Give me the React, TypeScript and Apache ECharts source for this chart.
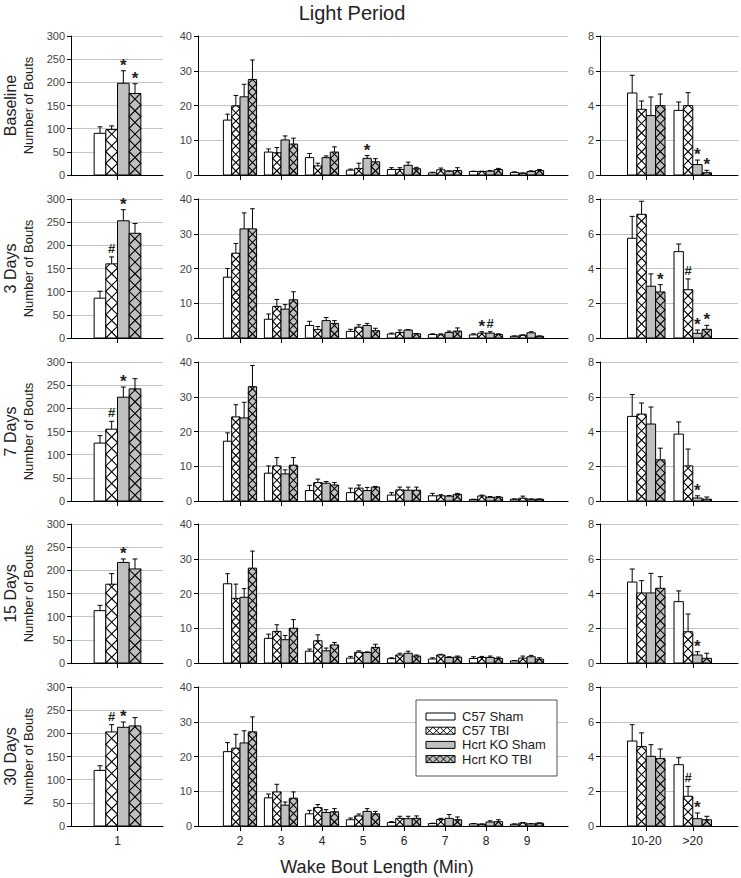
import React, { useEffect, useRef } from "react";
import * as echarts from "echarts";

// ---------- data ----------
const groups = ["C57 Sham", "C57 TBI", "Hcrt KO Sham", "Hcrt KO TBI"];
const rowLabels = ["Baseline", "3 Days", "7 Days", "15 Days", "30 Days"];
const categories = ["1", "2", "3", "4", "5", "6", "7", "8", "9", "10-20", ">20"];
const panelSlices = [[0, 1], [1, 9], [9, 11]];
const panelMax = [300, 40, 8];
const panelInterval = [50, 10, 2];
const title = "Light Period";
const xTitle = "Wake Bout Length (Min)";
const yTitle = "Number of Bouts";

// mean values: [group][category]
const baselineMean = [
  [90, 15.8, 6.6, 5.0, 1.4, 1.6, 0.6, 1.0, 0.7, 4.72, 3.72],
  [98, 19.9, 6.4, 2.6, 1.9, 1.6, 1.5, 1.0, 0.5, 3.78, 3.99],
  [198, 22.5, 10.1, 5.0, 4.8, 2.8, 1.1, 1.1, 1.0, 3.42, 0.6],
  [176, 27.5, 8.9, 6.6, 3.8, 1.8, 1.3, 1.6, 1.3, 3.99, 0.13],
];
const baselineSem = [
  [14, 1.7, 0.9, 1.2, 0.3, 0.5, 0.2, 0.1, 0.2, 1.02, 0.48],
  [8, 3.0, 1.5, 0.8, 1.5, 0.5, 0.5, 0.1, 0.1, 0.48, 0.75],
  [27, 3.6, 1.15, 0.5, 0.8, 0.9, 0.1, 0.2, 0.2, 1.07, 0.26],
  [21, 5.6, 1.7, 1.5, 0.9, 0.4, 0.8, 0.3, 0.3, 0.67, 0.14],
];
const day3Mean = [
  [86, 17.5, 5.4, 3.6, 1.9, 1.15, 1.0, 0.9, 0.5, 5.74, 4.97],
  [160, 24.4, 9.1, 2.4, 3.1, 1.6, 0.9, 1.4, 0.8, 7.12, 2.78],
  [253, 31.4, 8.3, 5.0, 3.6, 2.3, 1.6, 1.4, 1.5, 2.98, 0.27],
  [226, 31.4, 11.0, 4.2, 2.1, 1.2, 2.0, 1.0, 0.5, 2.65, 0.5],
];
const day3Sem = [
  [15, 2.5, 1.5, 1.2, 0.6, 0.25, 0.2, 0.3, 0.1, 1.26, 0.44],
  [15, 2.8, 2.0, 0.9, 0.7, 0.7, 0.3, 0.4, 0.1, 0.75, 0.62],
  [24, 4.6, 1.3, 0.9, 0.6, 0.1, 0.4, 0.4, 0.3, 0.71, 0.19],
  [21, 5.8, 2.3, 0.8, 0.7, 0.1, 0.9, 0.2, 0.1, 0.42, 0.23],
];
const day7Mean = [
  [125, 17.2, 8.0, 3.0, 2.4, 1.7, 1.5, 0.4, 0.5, 4.87, 3.85],
  [155, 24.2, 10.1, 5.3, 3.7, 3.2, 1.5, 1.45, 0.8, 5.0, 2.02],
  [224, 23.9, 7.8, 5.1, 3.0, 3.1, 1.4, 1.06, 0.5, 4.43, 0.17],
  [242, 32.9, 10.3, 4.6, 4.0, 3.1, 1.9, 1.1, 0.5, 2.37, 0.1],
];
const day7Sem = [
  [16, 2.4, 2.1, 1.5, 1.3, 0.7, 0.7, 0.1, 0.1, 1.26, 0.7],
  [17, 3.5, 2.4, 1.0, 0.9, 0.8, 0.3, 0.25, 0.6, 0.64, 0.97],
  [22, 4.5, 1.16, 0.5, 0.9, 0.9, 0.2, 0.24, 0.1, 0.98, 0.13],
  [22, 6.1, 2.2, 0.7, 0.2, 0.9, 0.3, 0.2, 0.1, 0.67, 0.13],
];
const day15Mean = [
  [113, 22.8, 7.1, 3.4, 1.4, 1.25, 1.15, 1.3, 0.6, 4.66, 3.53],
  [170, 18.6, 9.1, 6.4, 3.1, 2.3, 2.3, 1.6, 1.4, 4.03, 1.8],
  [217, 18.9, 6.7, 3.5, 3.0, 2.8, 1.6, 1.6, 1.8, 4.03, 0.46],
  [203, 27.3, 10.0, 5.2, 4.5, 2.0, 1.7, 1.3, 1.1, 4.3, 0.27],
];
const day15Sem = [
  [11.5, 2.9, 1.2, 0.6, 0.5, 0.25, 0.35, 0.5, 0.1, 0.75, 0.62],
  [23, 4.1, 1.9, 1.7, 0.4, 0.5, 0.2, 0.3, 0.6, 0.71, 1.02],
  [7.5, 2.5, 1.2, 0.8, 0.2, 0.6, 0.2, 0.4, 0.4, 1.13, 0.19],
  [21.5, 4.9, 2.5, 0.7, 0.9, 0.3, 0.3, 0.4, 0.4, 0.67, 0.29],
];
const day30Mean = [
  [120, 21.4, 8.1, 3.5, 1.8, 1.0, 0.7, 0.6, 0.5, 4.89, 3.53],
  [203, 22.4, 9.8, 5.3, 2.9, 2.2, 1.9, 0.5, 0.85, 4.57, 1.71],
  [213, 23.9, 6.0, 3.9, 4.2, 2.1, 2.2, 1.15, 0.6, 4.01, 0.42],
  [216, 27.1, 8.0, 4.1, 3.5, 2.2, 1.8, 1.25, 0.8, 3.88, 0.36],
];
const day30Sem = [
  [10, 2.6, 1.1, 1.0, 0.5, 0.25, 0.1, 0.1, 0.1, 0.94, 0.4],
  [15.7, 4.0, 2.2, 0.9, 0.55, 0.6, 0.3, 0.1, 0.15, 0.79, 0.57],
  [11.5, 3.5, 0.9, 0.8, 0.8, 0.7, 1.1, 0.35, 0.1, 0.67, 0.33],
  [18, 4.3, 1.8, 0.9, 0.7, 0.7, 0.8, 0.55, 0.1, 0.55, 0.2],
];
// significance marks: [categoryIndex, groupIndex, symbol]
const baselineMarks: [number, number, string][] = [[0, 2, "*"], [0, 3, "*"], [4, 2, "*"], [10, 2, "*"], [10, 3, "*"]];
const day3Marks: [number, number, string][] = [[0, 1, "#"], [0, 2, "*"], [7, 1, "*"], [7, 2, "#"], [9, 3, "*"], [10, 1, "#"], [10, 2, "*"], [10, 3, "*"]];
const day7Marks: [number, number, string][] = [[0, 1, "#"], [0, 2, "*"], [10, 2, "*"]];
const day15Marks: [number, number, string][] = [[0, 2, "*"], [10, 2, "*"]];
const day30Marks: [number, number, string][] = [[0, 1, "#"], [0, 2, "*"], [10, 1, "#"], [10, 2, "*"]];

const rowsData = [
  { mean: baselineMean, sem: baselineSem, marks: baselineMarks },
  { mean: day3Mean, sem: day3Sem, marks: day3Marks },
  { mean: day7Mean, sem: day7Sem, marks: day7Marks },
  { mean: day15Mean, sem: day15Sem, marks: day15Marks },
  { mean: day30Mean, sem: day30Sem, marks: day30Marks },
];

// ---------- layout / style ----------
const FONT = "Liberation Sans, Arial, Helvetica, sans-serif";
const ROW_TOP = [36, 199, 362, 524, 687];
const ROW_H = 139;
const FRAME = [
  { left: 71, width: 92 },
  { left: 198, width: 370 },
  { left: 600, width: 138 },
];
const BARS = [
  { left: 75.5, width: 84, fill: 0.556 },
  { left: 219.5, width: 328, fill: 0.81 },
  { left: 623, width: 93, fill: 0.806 },
];
const FILLS = ["#ffffff", "#ffffff", "#bfbfbf", "#bfbfbf"];
const HATCH = [false, true, false, true];

function zigzagV(x0: number, x1: number, yb: number, yt: number, h: number) {
  const lines: number[][][] = [];
  if (yb - yt < 0.5) return lines;
  for (const startLeft of [true, false]) {
    const pts: number[][] = [[startLeft ? x0 : x1, yb]];
    let left = !startLeft;
    let k = 1;
    while (k < 200) {
      const y = yb - k * h;
      const x = left ? x0 : x1;
      const [px, py] = pts[pts.length - 1];
      if (y <= yt) {
        const t = (py - yt) / (py - y);
        pts.push([px + t * (x - px), yt]);
        break;
      }
      pts.push([x, y]);
      left = !left;
      k++;
    }
    lines.push(pts);
  }
  return lines;
}

function zigzagH(x0: number, x1: number, yt: number, yb: number, w: number) {
  const lines: number[][][] = [];
  for (const startTop of [true, false]) {
    const pts: number[][] = [[x0, startTop ? yt : yb]];
    let top = !startTop;
    let k = 1;
    while (k < 200) {
      const x = x0 + k * w;
      const y = top ? yt : yb;
      const [px, py] = pts[pts.length - 1];
      if (x >= x1) {
        const t = (x1 - px) / (x - px);
        pts.push([x1, py + t * (y - py)]);
        break;
      }
      pts.push([x, y]);
      top = !top;
      k++;
    }
    lines.push(pts);
  }
  return lines;
}

function buildOption() {
  const grid: any[] = [];
  const xAxis: any[] = [];
  const yAxis: any[] = [];
  const series: any[] = [];
  const graphic: any[] = [];

  rowsData.forEach((row, r) => {
    panelSlices.forEach(([s0, s1], c) => {
      const cats = categories.slice(s0, s1);
      const fIdx = grid.length;
      grid.push({ left: FRAME[c].left, width: FRAME[c].width, top: ROW_TOP[r], height: ROW_H, outerBoundsMode: "none", containLabel: false });
      xAxis.push({
        gridIndex: fIdx, type: "value", min: 0, max: 1,
        axisLine: { show: true, onZero: false, lineStyle: { color: "#000", width: 1 } },
        axisTick: { show: false }, axisLabel: { show: false }, splitLine: { show: false },
      });
      yAxis.push({
        gridIndex: fIdx, type: "value", min: 0, max: panelMax[c], interval: panelInterval[c],
        axisLine: { show: true, lineStyle: { color: "#000", width: 1 } },
        axisTick: { show: true, length: 4, lineStyle: { color: "#000" } },
        axisLabel: { color: "#444", fontSize: 11, fontFamily: FONT, margin: 6 },
        splitLine: { show: true, lineStyle: { color: "#c4c4c4", width: 1 } },
      });
      const bIdx = grid.length;
      grid.push({ left: BARS[c].left, width: BARS[c].width, top: ROW_TOP[r], height: ROW_H, outerBoundsMode: "none", containLabel: false });
      xAxis.push({
        gridIndex: bIdx, type: "category", data: cats,
        axisLine: { show: false },
        axisTick: { show: true, alignWithLabel: true, length: 5, lineStyle: { color: "#000" } },
        axisLabel: { show: r === rowsData.length - 1, color: "#222", fontSize: 12, fontFamily: FONT, margin: 9 },
        splitLine: { show: false },
      });
      yAxis.push({ gridIndex: bIdx, type: "value", min: 0, max: panelMax[c], show: false, splitLine: { show: false } });

      const fill = BARS[c].fill;
      groups.forEach((gName, g) => {
        const data = cats.map((_, k) => [k, row.mean[g][s0 + k], row.sem[g][s0 + k]]);
        const marks = row.marks.filter((m) => m[1] === g && m[0] >= s0 && m[0] < s1);
        series.push({
          type: "custom", name: gName, xAxisIndex: bIdx, yAxisIndex: bIdx,
          encode: { x: 0, y: 1 }, data, clip: false, z: 2 + g,
          renderItem: (params: any, api: any) => {
            const k = api.value(0);
            const m = api.value(1);
            const s = api.value(2);
            const base = api.coord([k, 0]);
            const top = api.coord([k, m]);
            const err = api.coord([k, m + s]);
            const band = api.size([1, 0])[0];
            const bw = (band * fill) / 4;
            const x0 = base[0] - 2 * bw + g * bw;
            const x1 = x0 + bw;
            const cx = x0 + bw / 2;
            const children: any[] = [];
            children.push({
              type: "rect",
              shape: { x: x0, y: top[1], width: bw, height: base[1] - top[1] },
              style: { fill: FILLS[g], stroke: "#000", lineWidth: 1 },
            });
            if (HATCH[g]) {
              zigzagV(x0, x1, base[1], top[1], bw).forEach((pts) => {
                children.push({ type: "polyline", shape: { points: pts }, style: { stroke: "#000", lineWidth: 1.1, fill: "none" } });
              });
            }
            const cap = Math.min(5, bw * 0.55);
            children.push({ type: "line", shape: { x1: cx, y1: top[1], x2: cx, y2: err[1] }, style: { stroke: "#000", lineWidth: 1 } });
            children.push({ type: "line", shape: { x1: cx - cap / 2, y1: err[1], x2: cx + cap / 2, y2: err[1] }, style: { stroke: "#000", lineWidth: 1 } });
            marks.filter((mk) => mk[0] - s0 === k).forEach((mk) => {
              const isStar = mk[2] === "*";
              children.push({
                type: "text",
                z2: 10,
                style: {
                  text: mk[2], x: cx, y: err[1] + (isStar ? 3 : -2),
                  align: "center", verticalAlign: "bottom", textAlign: "center", textVerticalAlign: "bottom",
                  fontSize: isStar ? 17 : 13, fontWeight: "bold", fontFamily: FONT, fill: "#222",
                },
              });
            });
            return { type: "group", children };
          },
        });
      });
    });

    const cy = ROW_TOP[r] + ROW_H / 2;
    graphic.push({
      type: "text", x: 10, y: cy, rotation: Math.PI / 2,
      style: { text: rowLabels[r], fontSize: 16, fontFamily: FONT, fill: "#222", align: "center", verticalAlign: "middle", textAlign: "center", textVerticalAlign: "middle" },
    });
    graphic.push({
      type: "text", x: 28, y: cy, rotation: Math.PI / 2,
      style: { text: yTitle, fontSize: 13, fontFamily: FONT, fill: "#222", align: "center", verticalAlign: "middle", textAlign: "center", textVerticalAlign: "middle" },
    });
  });

  graphic.push({
    type: "text", x: 352, y: 13,
    style: { text: title, fontSize: 20, fontFamily: FONT, fill: "#222", align: "center", verticalAlign: "middle", textAlign: "center", textVerticalAlign: "middle" },
  });
  graphic.push({
    type: "text", x: 377, y: 867,
    style: { text: xTitle, fontSize: 18, fontFamily: FONT, fill: "#222", align: "center", verticalAlign: "middle", textAlign: "center", textVerticalAlign: "middle" },
  });

  // legend
  const lgX = 416, lgY = 700, lgW = 141, lgH = 76;
  graphic.push({ type: "rect", shape: { x: lgX, y: lgY, width: lgW, height: lgH }, style: { fill: "#fff", stroke: "#555", lineWidth: 1 }, z: 50 });
  groups.forEach((gName, g) => {
    const ey = 716.5 + g * 14.2;
    const sx0 = 426, sx1 = 455, sh = 7;
    graphic.push({ type: "rect", shape: { x: sx0, y: ey - sh / 2, width: sx1 - sx0, height: sh }, style: { fill: FILLS[g], stroke: "#000", lineWidth: 1 }, z: 51 });
    if (HATCH[g]) {
      zigzagH(sx0, sx1, ey - sh / 2, ey + sh / 2, sh).forEach((pts) => {
        graphic.push({ type: "polyline", shape: { points: pts }, style: { stroke: "#000", lineWidth: 1, fill: "none" }, z: 52 });
      });
    }
    graphic.push({
      type: "text", x: 462, y: ey, z: 52,
      style: { text: gName, fontSize: 13, fontFamily: FONT, fill: "#222", align: "left", verticalAlign: "middle", textAlign: "left", textVerticalAlign: "middle" },
    });
  });

  return {
    animation: false,
    backgroundColor: "#fff",
    textStyle: { fontFamily: FONT },
    grid, xAxis, yAxis, series, graphic,
  };
}

export default function App() {
  const ref = useRef<HTMLDivElement>(null);
  useEffect(() => {
    if (!ref.current) return;
    const chart = echarts.init(ref.current, null, { renderer: "svg" });
    chart.setOption(buildOption() as any);
    return () => chart.dispose();
  }, []);
  return <div ref={ref} style={{ position: "absolute", left: 0, top: 0, width: 741, height: 878, background: "#fff" }} />;
}
